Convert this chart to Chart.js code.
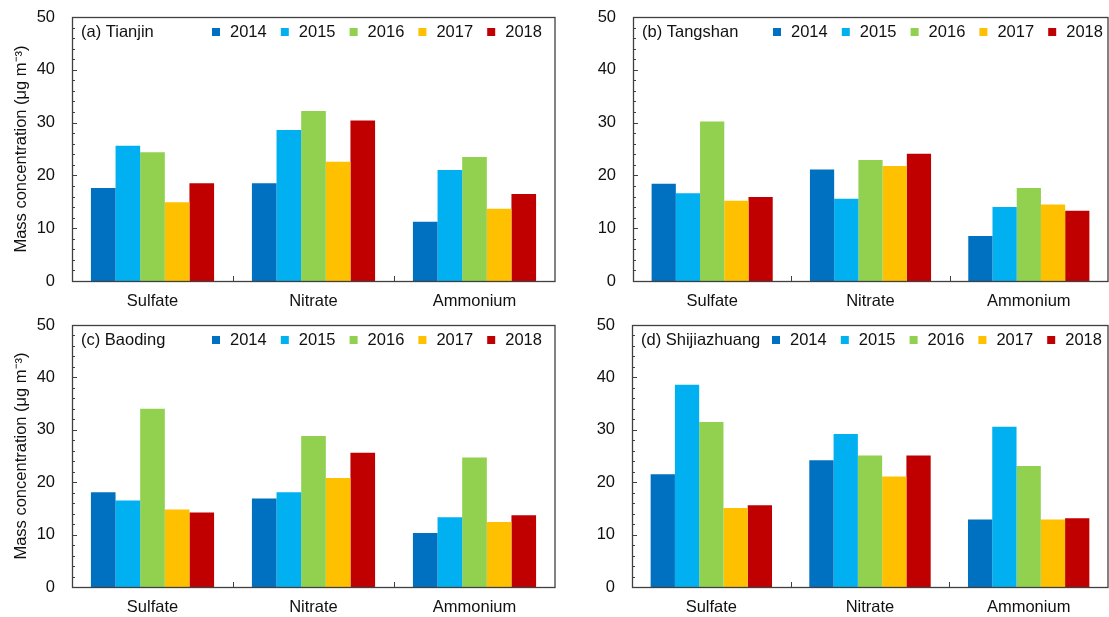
<!DOCTYPE html>
<html>
<head>
<meta charset="utf-8">
<title>Secondary inorganic aerosol concentrations, 2014–2018</title>
<script src="https://cdn.jsdelivr.net/npm/chart.js@4/dist/chart.umd.min.js"></script>
<style>
  html, body { margin: 0; padding: 0; background: #ffffff; }
  #wrap { position: relative; width: 1109px; height: 617px; overflow: hidden; }
  canvas { position: absolute; display: block; }
</style>
</head>
<body>
<div id="wrap">
  <canvas id="cA" width="560" height="310" style="left:0;top:0"></canvas>
  <canvas id="cB" width="549" height="310" style="left:560px;top:0"></canvas>
  <canvas id="cC" width="560" height="307" style="left:0;top:310px"></canvas>
  <canvas id="cD" width="549" height="307" style="left:560px;top:310px"></canvas>
</div>
<script>
// Categories, years and axis ticks
const categories = ['Sulfate', 'Nitrate', 'Ammonium'];
const years = ['2014', '2015', '2016', '2017', '2018'];
const yearColors = ['#0070C0', '#00B0F0', '#92D050', '#FFC000', '#C00000'];
const yTicks = [0, 10, 20, 30, 40, 50];

// Mass concentrations (µg m-3); one row per year: [Sulfate, Nitrate, Ammonium]
const tianjin = [
  [17.6, 18.5, 11.2],
  [25.6, 28.6, 21.0],
  [24.4, 32.2, 23.5],
  [14.9, 22.6, 13.7],
  [18.5, 30.4, 16.5]
];
const tangshan = [
  [18.4, 21.1, 8.5],
  [16.6, 15.6, 14.0],
  [30.2, 22.9, 17.6],
  [15.2, 21.8, 14.5],
  [15.9, 24.1, 13.3]
];
const baoding = [
  [18.1, 16.9, 10.3],
  [16.5, 18.1, 13.3],
  [34.0, 28.8, 24.7],
  [14.8, 20.8, 12.4],
  [14.2, 25.6, 13.7]
];
const shijiazhuang = [
  [21.5, 24.2, 12.9],
  [38.6, 29.2, 30.6],
  [31.5, 25.1, 23.1],
  [15.1, 21.1, 12.9],
  [15.6, 25.1, 13.1]
];

const FONT = "'Liberation Sans', Arial, sans-serif";
const FONT_SIZE = 16.5;
const TEXT = '#111111';
const FRAME = '#404040';

// Frame, inward ticks, category separators, in-plot legend and panel label
const panelDecor = {
  id: 'panelDecor',
  afterDraw(chart, args, opts) {
    const { ctx, chartArea: a, scales: { x, y } } = chart;
    ctx.save();
    ctx.strokeStyle = FRAME;
    ctx.lineWidth = 1;
    const yMax = yTicks[yTicks.length - 1];
    for (let v = 0; v <= yMax; v += 2) {
      const py = Math.round(y.getPixelForValue(v)) + 0.5;
      const len = v % 10 === 0 ? 5 : 3;
      ctx.beginPath();
      ctx.moveTo(a.left, py);
      ctx.lineTo(a.left + len, py);
      ctx.stroke();
    }
    for (let i = 1; i < categories.length; i++) {
      const px = Math.round((x.getPixelForValue(i - 1) + x.getPixelForValue(i)) / 2) + 0.5;
      ctx.beginPath();
      ctx.moveTo(px, a.bottom);
      ctx.lineTo(px, a.bottom - 5);
      ctx.stroke();
    }
    ctx.lineWidth = 1.3;
    ctx.strokeRect(Math.round(a.left) + 0.5, Math.round(a.top) + 0.5,
                   Math.round(a.right - a.left) - 0.5, Math.round(a.bottom - a.top));

    // panel label
    const cy = a.top + 15;
    ctx.fillStyle = TEXT;
    ctx.font = FONT_SIZE + 'px ' + FONT;
    ctx.textBaseline = 'middle';
    ctx.textAlign = 'left';
    ctx.fillText(opts.label, a.left + 9, cy);

    // legend row
    chart.data.datasets.forEach((ds, i) => {
      const sx = a.left + 140 + i * 68.8;
      ctx.fillStyle = ds.backgroundColor;
      ctx.fillRect(sx, cy - 4, 8, 8);
      ctx.fillStyle = TEXT;
      ctx.fillText(ds.label, sx + 18, cy);
    });
    ctx.restore();
  }
};

function makePanel(id, label, rows, pad, yAxisWidth, xAxisHeight, showTitle) {
  const datasets = years.map((yr, i) => ({
    label: yr,
    data: rows[i],
    backgroundColor: yearColors[i],
    borderWidth: 0,
    categoryPercentage: 0.765,
    barPercentage: 1.0
  }));
  return new Chart(document.getElementById(id), {
    type: 'bar',
    data: { labels: categories, datasets },
    plugins: [panelDecor],
    options: {
      responsive: false,
      animation: false,
      devicePixelRatio: 1,
      layout: { padding: pad },
      plugins: {
        legend: { display: false },
        tooltip: { enabled: false },
        panelDecor: { label }
      },
      scales: {
        x: {
          grid: { display: false, drawTicks: false },
          border: { display: false },
          ticks: { font: { family: FONT, size: FONT_SIZE }, color: TEXT, padding: 11 },
          afterFit(s) { s.height = xAxisHeight; }
        },
        y: {
          min: 0,
          max: yTicks[yTicks.length - 1],
          grid: { display: false, drawTicks: false },
          border: { display: false },
          ticks: {
            stepSize: 10,
            font: { family: FONT, size: FONT_SIZE },
            color: TEXT,
            padding: 17,
            callback: v => (yTicks.includes(v) ? String(v) : '')
          },
          title: {
            display: showTitle,
            text: 'Mass concentration (μg m⁻³)',
            font: { family: FONT, size: FONT_SIZE },
            color: TEXT,
            padding: { top: 12, bottom: 0 }
          },
          afterFit(s) {
            s.width = yAxisWidth;
            s.paddingTop = 0;
            s.paddingBottom = 0;
          }
        }
      }
    }
  });
}

makePanel('cA', '(a) Tianjin', tianjin, { top: 17, right: 5, bottom: 0, left: 0 }, 72, 29, true);
makePanel('cB', '(b) Tangshan', tangshan, { top: 17, right: 1, bottom: 0, left: 0 }, 73, 29, false);
makePanel('cC', '(c) Baoding', baoding, { top: 15, right: 5, bottom: 0, left: 0 }, 72, 30, true);
makePanel('cD', '(d) Shijiazhuang', shijiazhuang, { top: 15, right: 1, bottom: 0, left: 0 }, 72, 30, false);
</script>
</body>
</html>
